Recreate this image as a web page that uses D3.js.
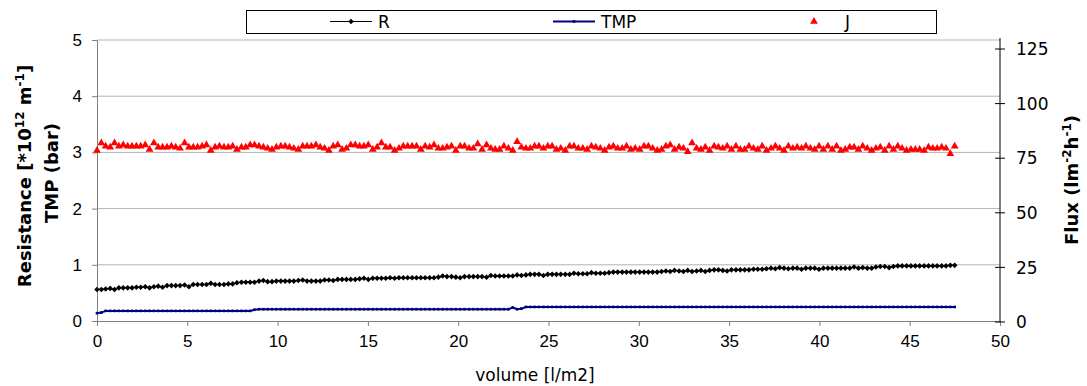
<!DOCTYPE html>
<html>
<head>
<meta charset="utf-8">
<script src="https://cdn.jsdelivr.net/npm/d3@7"></script>
<style>
  body { margin: 0; background: #fff; }
  svg { display: block; font-family: 'DejaVu Sans', Verdana, sans-serif; }
</style>
</head>
<body>
<svg id="chart" width="1087" height="386"></svg>
<script>
// volume [l/m2]
const volume = [
  0.00, 0.24, 0.48, 0.73, 0.97, 1.21, 1.45, 1.70, 1.94, 2.18,
  2.42, 2.67, 2.91, 3.15, 3.39, 3.63, 3.88, 4.12, 4.36, 4.60,
  4.85, 5.09, 5.33, 5.57, 5.82, 6.06, 6.30, 6.54, 6.78, 7.03,
  7.27, 7.51, 7.75, 8.00, 8.24, 8.48, 8.72, 8.97, 9.21, 9.45,
  9.69, 9.93, 10.18, 10.42, 10.66, 10.90, 11.15, 11.39, 11.63, 11.87,
  12.12, 12.36, 12.60, 12.84, 13.08, 13.33, 13.57, 13.81, 14.05, 14.30,
  14.54, 14.78, 15.02, 15.27, 15.51, 15.75, 15.99, 16.23, 16.48, 16.72,
  16.96, 17.20, 17.45, 17.69, 17.93, 18.17, 18.42, 18.66, 18.90, 19.14,
  19.38, 19.63, 19.87, 20.11, 20.35, 20.60, 20.84, 21.08, 21.32, 21.57,
  21.81, 22.05, 22.29, 22.53, 22.78, 23.02, 23.26, 23.50, 23.75, 23.99,
  24.23, 24.47, 24.72, 24.96, 25.20, 25.44, 25.68, 25.93, 26.17, 26.41,
  26.65, 26.90, 27.14, 27.38, 27.62, 27.87, 28.11, 28.35, 28.59, 28.83,
  29.08, 29.32, 29.56, 29.80, 30.05, 30.29, 30.53, 30.77, 31.02, 31.26,
  31.50, 31.74, 31.98, 32.23, 32.47, 32.71, 32.95, 33.20, 33.44, 33.68,
  33.92, 34.17, 34.41, 34.65, 34.89, 35.13, 35.38, 35.62, 35.86, 36.10,
  36.35, 36.59, 36.83, 37.07, 37.32, 37.56, 37.80, 38.04, 38.28, 38.53,
  38.77, 39.01, 39.25, 39.50, 39.74, 39.98, 40.22, 40.47, 40.71, 40.95,
  41.19, 41.43, 41.68, 41.92, 42.16, 42.40, 42.65, 42.89, 43.13, 43.37,
  43.62, 43.86, 44.10, 44.34, 44.58, 44.83, 45.07, 45.31, 45.55, 45.80,
  46.04, 46.28, 46.52, 46.77, 47.01, 47.25, 47.49
]

// R [*10^12 m^-1]
const resistance = [
  0.56, 0.56, 0.57, 0.58, 0.56, 0.59, 0.59, 0.59, 0.59, 0.60,
  0.60, 0.61, 0.59, 0.61, 0.62, 0.60, 0.63, 0.63, 0.63, 0.63,
  0.64, 0.61, 0.65, 0.65, 0.65, 0.65, 0.67, 0.65, 0.65, 0.65,
  0.66, 0.66, 0.68, 0.69, 0.69, 0.69, 0.69, 0.71, 0.72, 0.70,
  0.70, 0.71, 0.71, 0.71, 0.71, 0.71, 0.72, 0.73, 0.71, 0.71,
  0.71, 0.71, 0.73, 0.73, 0.72, 0.74, 0.74, 0.74, 0.74, 0.74,
  0.75, 0.76, 0.74, 0.76, 0.76, 0.76, 0.76, 0.77, 0.76, 0.77,
  0.77, 0.77, 0.77, 0.77, 0.77, 0.77, 0.77, 0.77, 0.78, 0.80,
  0.79, 0.79, 0.78, 0.77, 0.79, 0.79, 0.79, 0.79, 0.79, 0.78,
  0.81, 0.80, 0.80, 0.80, 0.80, 0.80, 0.82, 0.81, 0.82, 0.83,
  0.83, 0.83, 0.81, 0.83, 0.83, 0.83, 0.83, 0.83, 0.83, 0.85,
  0.84, 0.84, 0.84, 0.86, 0.85, 0.85, 0.85, 0.86, 0.87, 0.87,
  0.87, 0.87, 0.87, 0.87, 0.87, 0.87, 0.87, 0.87, 0.87, 0.88,
  0.89, 0.88, 0.90, 0.89, 0.88, 0.90, 0.88, 0.89, 0.90, 0.88,
  0.90, 0.91, 0.91, 0.90, 0.89, 0.91, 0.91, 0.91, 0.91, 0.91,
  0.92, 0.92, 0.92, 0.93, 0.94, 0.93, 0.95, 0.94, 0.93, 0.94,
  0.94, 0.92, 0.94, 0.94, 0.94, 0.92, 0.94, 0.94, 0.94, 0.94,
  0.94, 0.94, 0.94, 0.96, 0.94, 0.95, 0.94, 0.94, 0.96, 0.97,
  0.97, 0.95, 0.97, 0.98, 0.98, 0.98, 0.98, 0.98, 0.98, 0.98,
  0.98, 0.98, 0.98, 0.98, 0.98, 0.99, 0.99
]

// TMP (bar)
const tmp = [
  0.14, 0.15, 0.18, 0.18, 0.18, 0.18, 0.18, 0.18, 0.18, 0.18,
  0.18, 0.18, 0.18, 0.18, 0.18, 0.18, 0.18, 0.18, 0.18, 0.18,
  0.18, 0.18, 0.18, 0.18, 0.18, 0.18, 0.18, 0.18, 0.18, 0.18,
  0.18, 0.18, 0.18, 0.18, 0.18, 0.18, 0.20, 0.21, 0.21, 0.21,
  0.21, 0.21, 0.21, 0.21, 0.21, 0.21, 0.21, 0.21, 0.21, 0.21,
  0.21, 0.21, 0.21, 0.21, 0.21, 0.21, 0.21, 0.21, 0.21, 0.21,
  0.21, 0.21, 0.21, 0.21, 0.21, 0.21, 0.21, 0.21, 0.21, 0.21,
  0.21, 0.21, 0.21, 0.21, 0.21, 0.21, 0.21, 0.21, 0.21, 0.21,
  0.21, 0.21, 0.21, 0.21, 0.21, 0.21, 0.21, 0.21, 0.21, 0.21,
  0.21, 0.21, 0.21, 0.21, 0.21, 0.24, 0.21, 0.22, 0.25, 0.25,
  0.25, 0.25, 0.25, 0.25, 0.25, 0.25, 0.25, 0.25, 0.25, 0.25,
  0.25, 0.25, 0.25, 0.25, 0.25, 0.25, 0.25, 0.25, 0.25, 0.25,
  0.25, 0.25, 0.25, 0.25, 0.25, 0.25, 0.25, 0.25, 0.25, 0.25,
  0.25, 0.25, 0.25, 0.25, 0.25, 0.25, 0.25, 0.25, 0.25, 0.25,
  0.25, 0.25, 0.25, 0.25, 0.25, 0.25, 0.25, 0.25, 0.25, 0.25,
  0.25, 0.25, 0.25, 0.25, 0.25, 0.25, 0.25, 0.25, 0.25, 0.25,
  0.25, 0.25, 0.25, 0.25, 0.25, 0.25, 0.25, 0.25, 0.25, 0.25,
  0.25, 0.25, 0.25, 0.25, 0.25, 0.25, 0.25, 0.25, 0.25, 0.25,
  0.25, 0.25, 0.25, 0.25, 0.25, 0.25, 0.25, 0.25, 0.25, 0.25,
  0.25, 0.25, 0.25, 0.25, 0.25, 0.25, 0.25
]

// J flux (lm-2h-1)
const flux = [
  78.5, 82, 80.5, 80, 82, 80.5, 81, 80.5, 80.5, 80.5,
  80.5, 81, 79, 82, 80, 80, 80, 80.5, 80, 79.5,
  82, 80, 80, 80, 80.5, 81, 78.5, 80, 80.5, 80,
  80, 80.5, 79, 80, 80, 81, 81, 80.5, 80, 79.5,
  79, 80, 80.5, 80.5, 80, 79.5, 79, 80.5, 80.5, 80.5,
  81, 80, 79.5, 78.5, 80.5, 81, 79, 79.5, 81, 81,
  80.5, 80.5, 81, 79, 80, 82, 80, 80, 78.5, 79.5,
  80.5, 80.5, 80.5, 80.5, 79, 80.5, 80, 81, 79.5, 79.5,
  80, 80.5, 78.5, 80.5, 80.5, 79.5, 79.5, 81.5, 79, 81,
  79.5, 79, 79, 80.5, 79.5, 78.5, 82.5, 80, 79.5, 79.5,
  80.5, 80.5, 79.5, 80.5, 80.5, 79, 79.5, 78.5, 80.5, 80.5,
  79.5, 79.5, 79, 80.5, 80, 79.5, 78.5, 80, 80.5, 79.5,
  79.5, 80.5, 79, 79.5, 79, 80.5, 80.5, 79.5, 78.5, 79,
  80.5, 81, 79, 80, 79.5, 78, 82, 79.5, 79, 80,
  78.5, 80.5, 80, 79.5, 80.5, 79, 80.5, 79, 79, 80.5,
  79.5, 79, 80.5, 78.5, 79.5, 80.5, 79.5, 78.5, 80.5, 79.5,
  80, 79.5, 80.5, 79.5, 79, 80.5, 79, 80.5, 79, 80.5,
  78.5, 79, 80, 80, 79, 80.5, 79.5, 78.5, 79.5, 80,
  78.5, 80.5, 79, 80.5, 79.5, 78.5, 79, 79, 79, 78.5,
  80, 79.5, 79.5, 80, 79.5, 77, 80.5
]

const xTicks = [0, 5, 10, 15, 20, 25, 30, 35, 40, 45, 50]
const leftTicks = [0, 1, 2, 3, 4, 5]
const rightTicks = [0, 25, 50, 75, 100, 125]

const svg = d3.select('#chart')
svg.append('rect').attr('width', 1087).attr('height', 386).attr('fill', '#fff')

const x = d3.scaleLinear().domain([0, 50]).range([97, 1000])
const yL = d3.scaleLinear().domain([0, 5]).range([321, 40])
const yR = d3.scaleLinear().domain([0, 125]).range([322, 49])

const fontSize = 17

// gridlines
svg.append('g')
  .selectAll('line')
  .data(leftTicks.slice(1))
  .join('line')
  .attr('x1', 97).attr('x2', 1000)
  .attr('y1', d => yL(d)).attr('y2', d => yL(d))
  .attr('stroke', '#b3b3b3')
  .attr('stroke-width', 1)

// left axis
const gL = svg.append('g')
  .attr('transform', 'translate(97,0)')
  .call(d3.axisLeft(yL).tickValues(leftTicks).tickSize(5).tickPadding(10).tickFormat(d3.format('d')))
gL.select('.domain').attr('stroke', '#808080')
gL.selectAll('.tick line').attr('stroke', '#808080')

// bottom axis
const gB = svg.append('g')
  .attr('transform', 'translate(0,321)')
  .call(d3.axisBottom(x).tickValues(xTicks).tickSize(5).tickPadding(9).tickSizeOuter(0).tickFormat(d3.format('d')))
gB.select('.domain').attr('stroke', '#808080')
gB.selectAll('.tick line').attr('stroke', '#808080')

// right axis (ticks cross the line)
const gR = svg.append('g')
  .attr('transform', 'translate(1000,0)')
gR.append('line')
  .attr('x1', 0).attr('x2', 0).attr('y1', 38).attr('y2', 322)
  .attr('stroke', '#000')
gR.selectAll('.rt')
  .data(rightTicks)
  .join('line')
  .attr('class', 'rt')
  .attr('x1', -5).attr('x2', 5)
  .attr('y1', d => yR(d)).attr('y2', d => yR(d))
  .attr('stroke', '#000')
gR.selectAll('.rl')
  .data(rightTicks)
  .join('text')
  .attr('class', 'rl')
  .attr('x', 16)
  .attr('y', d => yR(d))
  .attr('dy', '0.36em')
  .text(d => d)

svg.selectAll('.tick text').attr('font-size', fontSize).attr('fill', '#000').attr('font-family', null)
gR.selectAll('text').attr('font-size', fontSize).attr('fill', '#000')

// axis titles
const leftTitle = svg.append('text')
  .attr('transform', 'translate(31,176) rotate(-90)')
  .attr('text-anchor', 'middle')
  .attr('font-size', 18)
  .attr('font-weight', 'bold')
leftTitle.append('tspan').text('Resistance [*10')
leftTitle.append('tspan').attr('font-size', 12).attr('dy', -7).text('12')
leftTitle.append('tspan').attr('dy', 7).text(' m')
leftTitle.append('tspan').attr('font-size', 12).attr('dy', -7).text('-1')
leftTitle.append('tspan').attr('dy', 7).text(']')

svg.append('text')
  .attr('transform', 'translate(58,173) rotate(-90)')
  .attr('text-anchor', 'middle')
  .attr('font-size', 18)
  .attr('font-weight', 'bold')
  .text('TMP (bar)')

const rightTitle = svg.append('text')
  .attr('transform', 'translate(1078,180) rotate(-90)')
  .attr('text-anchor', 'middle')
  .attr('font-size', 18)
  .attr('font-weight', 'bold')
rightTitle.append('tspan').text('Flux (lm')
rightTitle.append('tspan').attr('font-size', 12).attr('dy', -7).text('-2')
rightTitle.append('tspan').attr('dy', 7).text('h')
rightTitle.append('tspan').attr('font-size', 12).attr('dy', -7).text('-1')
rightTitle.append('tspan').attr('dy', 7).text(')')

svg.append('text')
  .attr('x', 535).attr('y', 381)
  .attr('text-anchor', 'middle')
  .attr('font-size', fontSize)
  .text('volume [l/m2]')

// series
const rPts = volume.map((v, i) => [v, resistance[i]])
const tPts = volume.map((v, i) => [v, tmp[i]])
const jPts = volume.map((v, i) => [v, flux[i]])

const lineL = d3.line().x(d => x(d[0])).y(d => yL(d[1]))

svg.append('path')
  .datum(tPts)
  .attr('fill', 'none')
  .attr('stroke', '#000080')
  .attr('stroke-width', 2)
  .attr('d', lineL)
svg.append('g')
  .selectAll('path')
  .data(tPts)
  .join('path')
  .attr('transform', d => `translate(${x(d[0])},${yL(d[1])})`)
  .attr('d', d3.symbol(d3.symbolSquare, 7))
  .attr('fill', '#000080')

svg.append('path')
  .datum(rPts)
  .attr('fill', 'none')
  .attr('stroke', '#000')
  .attr('stroke-width', 1)
  .attr('d', lineL)
svg.append('g')
  .selectAll('path')
  .data(rPts)
  .join('path')
  .attr('transform', d => `translate(${x(d[0])},${yL(d[1])})`)
  .attr('d', d3.symbol(d3.symbolDiamond2, 20))
  .attr('fill', '#000')

svg.append('g')
  .selectAll('path')
  .data(jPts)
  .join('path')
  .attr('transform', d => `translate(${x(d[0])},${yR(d[1])})`)
  .attr('d', d3.symbol(d3.symbolTriangle, 26))
  .attr('fill', '#ff0000')

// legend
const legend = svg.append('g')
legend.append('rect')
  .attr('x', 246.5).attr('y', 10.5).attr('width', 690).attr('height', 23)
  .attr('fill', '#fff').attr('stroke', '#000')

const legendItems = [
  { name: 'R', color: '#000', sym: d3.symbolDiamond2, size: 20, line: true, lw: 1, x0: 330, tx: 378 },
  { name: 'TMP', color: '#000080', sym: d3.symbolSquare, size: 7, line: true, lw: 2, x0: 553, tx: 601 },
  { name: 'J', color: '#ff0000', sym: d3.symbolTriangle, size: 26, line: false, lw: 0, x0: 793, tx: 845 }
]
legendItems.forEach(it => {
  if (it.line) {
    legend.append('line')
      .attr('x1', it.x0).attr('x2', it.x0 + 42)
      .attr('y1', 21.5).attr('y2', 21.5)
      .attr('stroke', it.color).attr('stroke-width', it.lw)
  }
  legend.append('path')
    .attr('transform', `translate(${it.x0 + 21},21.5)`)
    .attr('d', d3.symbol(it.sym, it.size))
    .attr('fill', it.color)
  legend.append('text')
    .attr('x', it.tx).attr('y', 28)
    .attr('font-size', fontSize)
    .text(it.name)
})
</script>
</body>
</html>
